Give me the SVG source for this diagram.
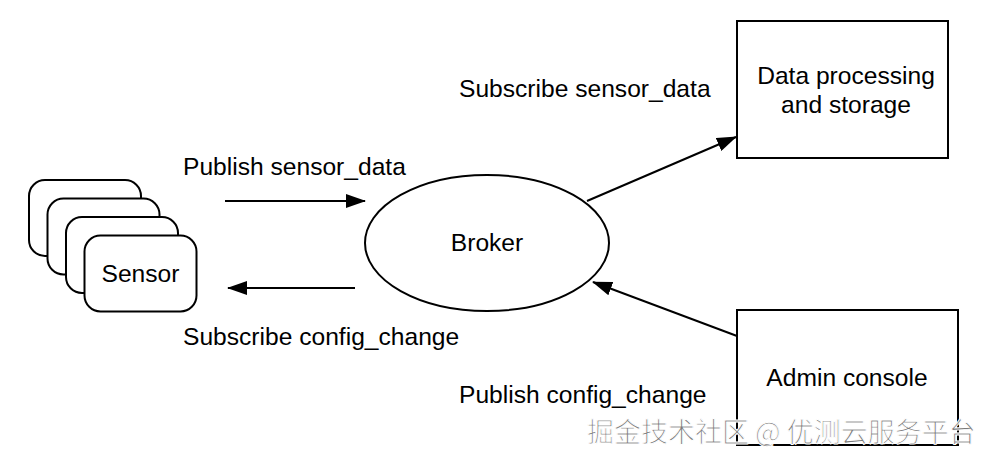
<svg xmlns="http://www.w3.org/2000/svg" width="990" height="460" viewBox="0 0 990 460">
<style>
.s{fill:#fff;stroke:#000;stroke-width:2}
.t{font-family:"Liberation Sans",Arial,sans-serif;font-size:24.6px;fill:#000}
.c{stroke:#000;stroke-width:2;fill:none}
.w{font-family:"Noto Sans CJK SC",sans-serif;font-size:27px;fill:#7a7a7a;stroke:#fff;stroke-width:1}
</style>
<defs>
<marker id="a" markerWidth="20" markerHeight="14" refX="19" refY="7" orient="auto" markerUnits="userSpaceOnUse">
<path d="M0,0 L20,7 L0,14 Z" fill="#000"/>
</marker>
</defs>
<rect width="990" height="460" fill="#fff"/>
<g id="sensor">
<rect class="s" x="29" y="180" width="112" height="76" rx="16"/>
<rect class="s" x="47.5" y="198.5" width="112" height="76" rx="16"/>
<rect class="s" x="66" y="217" width="112" height="76" rx="16"/>
<rect class="s" x="84.5" y="235.5" width="112" height="76" rx="16"/>
<text class="t" x="140.5" y="282" text-anchor="middle">Sensor</text>
</g>
<g id="broker">
<ellipse class="s" cx="487" cy="243" rx="122" ry="68"/>
<text class="t" x="487" y="251" text-anchor="middle">Broker</text>
</g>
<g id="data">
<rect class="s" x="737" y="21" width="211" height="137"/>
<text class="t" x="846" y="84" text-anchor="middle">Data processing</text>
<text class="t" x="846" y="113" text-anchor="middle">and storage</text>
</g>
<g id="admin">
<rect class="s" x="737" y="310" width="221" height="135"/>
<text class="t" x="847" y="386" text-anchor="middle">Admin console</text>
</g>
<g id="connectors">
<line class="c" x1="225" y1="201" x2="365" y2="201" marker-end="url(#a)"/>
<line class="c" x1="355" y1="288" x2="228" y2="288" marker-end="url(#a)"/>
<line class="c" x1="587" y1="201" x2="736" y2="137" marker-end="url(#a)"/>
<line class="c" x1="737" y1="336" x2="593" y2="282" marker-end="url(#a)"/>
<text class="t" x="183" y="175">Publish sensor_data</text>
<text class="t" x="183" y="345">Subscribe config_change</text>
<text class="t" x="459" y="97">Subscribe sensor_data</text>
<text class="t" x="459" y="403">Publish config_change</text>
</g>
<text class="w" x="587" y="442">掘金技术社区 @ 优测云服务平台</text>
</svg>
